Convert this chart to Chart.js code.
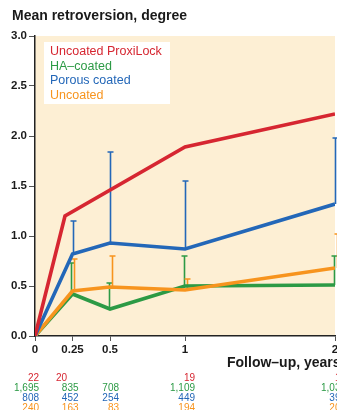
<!DOCTYPE html>
<html>
<head>
<meta charset="utf-8">
<script src="https://cdn.jsdelivr.net/npm/chart.js@4/dist/chart.umd.min.js"></script>
<style>
  html, body { margin: 0; padding: 0; background: #fff; }
  #wrap { width: 337px; height: 410px; }
</style>
</head>
<body>
<div id="wrap"><canvas id="retroChart" width="337" height="410"></canvas></div>
<script>
// Follow-up times (years) and mean retroversion (degree)
const xTicks = [0, 0.25, 0.5, 1, 2];
const yTicks = [0, 0.5, 1.0, 1.5, 2.0, 2.5, 3.0];

const proxiTimes = [0, 0.2, 1, 2];
const proxiMean = [0, 1.2, 1.89, 2.22];

const haTimes = [0, 0.25, 0.5, 1, 2];
const haMean = [0, 0.42, 0.27, 0.5, 0.51];
const haUpper = [null, 0.73, 0.53, 0.8, 0.8];

const porousTimes = [0, 0.25, 0.5, 1, 2];
const porousMean = [0, 0.82, 0.93, 0.87, 1.32];
const porousUpper = [null, 1.15, 1.84, 1.55, 1.98];

const uncoatedTimes = [0, 0.25, 0.5, 1, 2];
const uncoatedMean = [0, 0.45, 0.49, 0.46, 0.68];
const uncoatedUpper = [null, 0.77, 0.8, 0.57, 1.02];

// Number of hips at each follow-up
const proxiCounts = ["22", "20", "", "19", "17"];
const haCounts = ["1,695", "835", "708", "1,109", "1,036"];
const porousCounts = ["808", "452", "254", "449", "391"];
const uncoatedCounts = ["240", "163", "83", "194", "203"];

const colors = {
  proxi: "#d62631",
  ha: "#2c9a45",
  porous: "#2367b8",
  uncoated: "#f7941e"
};

function pts(times, vals) {
  return times.map((t, i) => ({ x: t, y: vals[i] }));
}

const FONT = "'Liberation Sans', Arial, Helvetica, sans-serif";

// cream plot area + title + legend + counts + axis title
const decor = {
  id: "decor",
  beforeDraw(chart) {
    const { ctx, chartArea: a } = chart;
    ctx.save();
    ctx.fillStyle = "#fdefd4";
    ctx.fillRect(a.left, a.top, a.right - a.left, a.bottom - a.top);
    ctx.restore();
  },
  beforeDatasetsDraw(chart) {
    // error bars (upper only)
    const { ctx } = chart;
    const xs = chart.scales.x, ys = chart.scales.y;
    const groups = [
      [haTimes, haMean, haUpper, colors.ha, -1.5],
      [uncoatedTimes, uncoatedMean, uncoatedUpper, colors.uncoated, 1.8],
      [porousTimes, porousMean, porousUpper, colors.porous, 0]
    ];
    ctx.save();
    ctx.lineWidth = 1.6;
    groups.forEach(([t, m, u, c, dx]) => {
      ctx.strokeStyle = c;
      t.forEach((tv, i) => {
        if (u[i] == null) return;
        const px = Math.round(xs.getPixelForValue(tv) + dx) + 0.5;
        const y0 = ys.getPixelForValue(m[i]);
        const y1 = ys.getPixelForValue(u[i]);
        ctx.beginPath();
        ctx.moveTo(px, y0);
        ctx.lineTo(px, y1);
        ctx.moveTo(px - 3, y1);
        ctx.lineTo(px + 3, y1);
        ctx.stroke();
      });
    });
    ctx.restore();
  },
  afterDraw(chart) {
    const { ctx, chartArea: a } = chart;
    const xs = chart.scales.x;
    ctx.save();
    // title
    ctx.fillStyle = "#1a1a1a";
    ctx.font = "bold 14px " + FONT;
    ctx.textBaseline = "middle";
    ctx.textAlign = "left";
    ctx.fillText("Mean retroversion, degree", 12, 16);

    // x axis title
    ctx.fillText("Follow\u2013up, years", 227, 363);

    // legend box
    ctx.fillStyle = "#ffffff";
    ctx.fillRect(a.left + 9, a.top + 6, 126, 62);
    ctx.font = "12.5px " + FONT;
    const leg = [
      ["Uncoated ProxiLock", colors.proxi],
      ["HA\u2013coated", colors.ha],
      ["Porous coated", colors.porous],
      ["Uncoated", colors.uncoated]
    ];
    leg.forEach(([txt, c], i) => {
      ctx.fillStyle = c;
      ctx.fillText(txt, a.left + 15, a.top + 16 + i * 14.5);
    });

    // counts table
    ctx.font = "10px " + FONT;
    ctx.textAlign = "right";
    const nudge = [4, 6, 9, 10, 11];
    const rows = [
      [proxiCounts, colors.proxi],
      [haCounts, colors.ha],
      [porousCounts, colors.porous],
      [uncoatedCounts, colors.uncoated]
    ];
    rows.forEach(([vals, c], r) => {
      ctx.fillStyle = c;
      vals.forEach((v, i) => {
        if (!v) return;
        let px = xs.getPixelForValue(xTicks[i]) + nudge[i];
        if (r === 0 && i === 1) px = xs.getPixelForValue(proxiTimes[1]) + 2;
        ctx.fillText(v, px, 378 + r * 10);
      });
    });
    ctx.restore();
  }
};

new Chart(document.getElementById("retroChart"), {
  type: "line",
  data: {
    datasets: [
      { label: "Uncoated ProxiLock", data: pts(proxiTimes, proxiMean), borderColor: colors.proxi },
      { label: "Porous coated", data: pts(porousTimes, porousMean), borderColor: colors.porous },
      { label: "Uncoated", data: pts(uncoatedTimes, uncoatedMean), borderColor: colors.uncoated },
      { label: "HA-coated", data: pts(haTimes, haMean), borderColor: colors.ha }
    ]
  },
  options: {
    responsive: false,
    animation: false,
    layout: { padding: { top: 36, right: 2, left: 0, bottom: 0 } },
    elements: {
      line: { borderWidth: 3.6, tension: 0, fill: false, borderJoinStyle: "miter", borderCapStyle: "butt" },
      point: { radius: 0 }
    },
    plugins: { legend: { display: false }, tooltip: { enabled: false } },
    scales: {
      x: {
        type: "linear",
        min: 0,
        max: 2,
        afterBuildTicks: s => { s.ticks = xTicks.map(v => ({ value: v })); },
        afterFit: s => { s.height = 74; s.paddingRight = 0; s.paddingLeft = 0; },
        grid: { drawOnChartArea: false, drawTicks: true, tickLength: 5, color: "#555" },
        border: { color: "#222", width: 1.5 },
        ticks: {
          autoSkip: false,
          maxRotation: 0,
          padding: 2,
          color: "#1a1a1a",
          font: { family: FONT, size: 11.5, weight: "bold" },
          callback: v => String(v)
        }
      },
      y: {
        min: 0,
        max: 3,
        afterBuildTicks: s => { s.ticks = yTicks.map(v => ({ value: v })); },
        afterFit: s => { s.width = 35; },
        grid: { drawOnChartArea: false, drawTicks: true, tickLength: 6, color: "#555" },
        border: { color: "#222", width: 1.5 },
        ticks: {
          padding: 2,
          color: "#1a1a1a",
          font: { family: FONT, size: 11.5, weight: "bold" },
          callback: v => v.toFixed(1)
        }
      }
    }
  },
  plugins: [decor]
});
</script>
</body>
</html>
